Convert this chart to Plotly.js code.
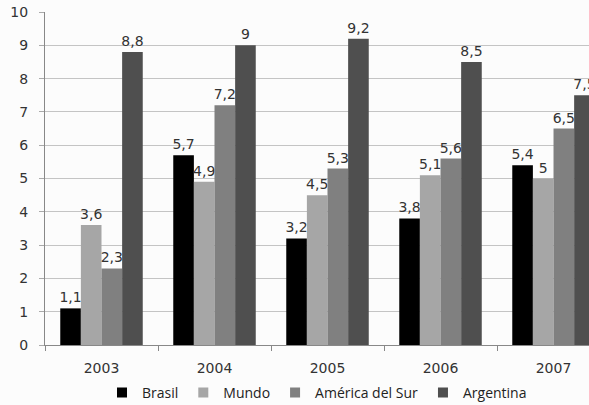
<!DOCTYPE html>
<html>
<head>
<meta charset="utf-8">
<script src="https://cdn.plot.ly/plotly-3.0.1.min.js"></script>
<style>html,body{margin:0;padding:0;background:#fcfcfc;}#chart{width:589px;height:405px;}</style>
</head>
<body>
<div id="chart"></div>
<script>
const years = ["2003", "2004", "2005", "2006", "2007"];
const brasil = [1.1, 5.7, 3.2, 3.8, 5.4];
const mundo = [3.6, 4.9, 4.5, 5.1, 5.0];
const americaSur = [2.3, 7.2, 5.3, 5.6, 6.5];
const argentina = [8.8, 9.0, 9.2, 8.5, 7.5];
const seriesNames = ["Brasil", "Mundo", "América del Sur", "Argentina"];
const seriesColors = ["#000000", "#a6a6a6", "#808080", "#4f4f4f"];
const yTicks = [0,1,2,3,4,5,6,7,8,9,10];

const fmt = v => String(v).replace('.', ',');
const bars = [brasil, mundo, americaSur, argentina].map((vals, i) => ({
  type: 'bar',
  name: seriesNames[i],
  x: years,
  y: vals,
  text: vals.map(fmt),
  textposition: 'outside',
  constraintext: 'none',
  cliponaxis: false,
  textfont: {family: 'DejaVu Sans, Verdana, sans-serif', size: 14, color: '#333333'},
  marker: {color: seriesColors[i], line: {width: 0}},
  showlegend: false,
  hoverinfo: 'none'
}));
const legendItems = seriesNames.map((n, i) => ({
  type: 'scatter', mode: 'markers', name: n,
  x: [null], y: [null],
  marker: {symbol: 'square', size: 10, color: seriesColors[i]},
  showlegend: true, hoverinfo: 'none'
}));

const layout = {
  width: 589, height: 405,
  margin: {l: 45, r: 0, t: 12, b: 60, autoexpand: false},
  paper_bgcolor: '#fcfcfc',
  plot_bgcolor: '#fcfcfc',
  barmode: 'group',
  bargap: 0.27,
  bargroupgap: 0,
  showlegend: true,
  legend: {
    orientation: 'h', x: 0.5, xanchor: 'center',
    yref: 'container', y: 0.03, yanchor: 'middle',
    font: {family: 'Open Sans, sans-serif', size: 14, color: '#222222'},
    itemwidth: 30, traceorder: 'normal', bgcolor: 'rgba(0,0,0,0)',
    tracegroupgap: 0
  },
  xaxis: {
    type: 'category',
    range: [-0.5, 4.314],
    automargin: false,
    tickson: 'boundaries',
    ticks: 'outside', ticklen: 5, tickcolor: '#888888',
    ticklabelstandoff: 10,
    showline: true, linecolor: '#888888', linewidth: 1,
    showgrid: false,
    tickfont: {family: 'DejaVu Sans, Verdana, sans-serif', size: 14, color: '#333333'}
  },
  yaxis: {
    range: [0, 10],
    automargin: false,
    tickvals: yTicks,
    ticktext: yTicks.map(String),
    ticks: 'outside', ticklen: 5, tickcolor: '#aaaaaa',
    ticklabelstandoff: 8,
    showline: true, linecolor: '#888888', linewidth: 1,
    showgrid: true, gridcolor: '#c4c4c4', gridwidth: 1,
    zeroline: false,
    tickfont: {family: 'DejaVu Sans, Verdana, sans-serif', size: 14, color: '#333333'}
  },
  separators: ', '
};

Plotly.newPlot('chart', bars.concat(legendItems), layout, {staticPlot: true, displayModeBar: false});
</script>
</body>
</html>
